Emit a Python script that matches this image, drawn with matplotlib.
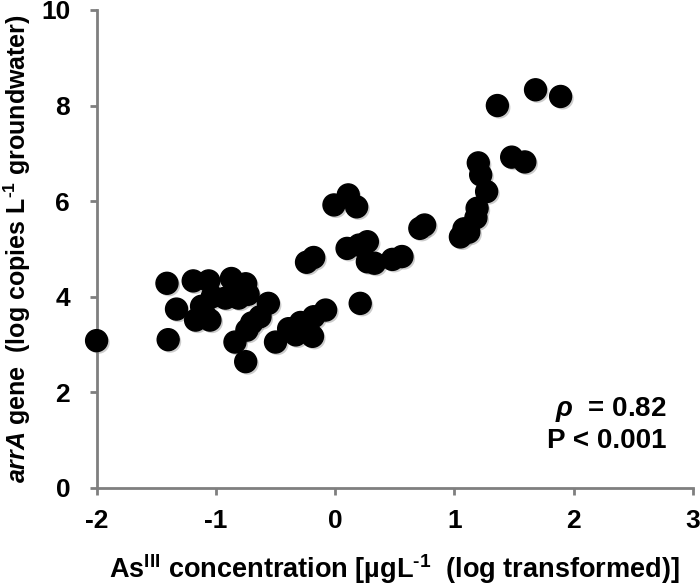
import matplotlib
matplotlib.use("Agg")
import matplotlib.pyplot as plt
import matplotlib.patheffects as pe

# As(III) concentration (log transformed) vs arrA gene copies (log)
as3 = [-2.00, -1.41, -1.40, -1.33, -1.19, -1.06, -0.87, -0.75, -1.12, -1.03,
       -0.92, -0.81, -0.73, -1.17, -1.05, -1.10, -0.56, -0.63, -0.70, -0.74,
       -0.84, -0.75, -0.50, -0.39, -0.29, -0.33, -0.19, -0.18, -0.08, 0.21,
       -0.24, -0.18, -0.01, 0.11, 0.18, 0.10, 0.20, 0.27, 0.27, 0.33,
       0.48, 0.56, 0.71, 0.75, 1.05, 1.08, 1.12, 1.18, 1.19, 1.27,
       1.22, 1.20, 1.36, 1.48, 1.59, 1.68, 1.89]
arra = [3.08, 4.28, 3.10, 3.74, 4.33, 4.33, 4.38, 4.27, 3.80, 4.00,
        3.97, 3.97, 4.05, 3.51, 3.51, 3.65, 3.86, 3.58, 3.45, 3.30,
        3.05, 2.64, 3.05, 3.33, 3.46, 3.20, 3.17, 3.58, 3.72, 3.86,
        4.72, 4.82, 5.92, 6.13, 5.88, 5.01, 5.08, 5.15, 4.73, 4.70,
        4.78, 4.84, 5.43, 5.50, 5.25, 5.42, 5.35, 5.65, 5.85, 6.20,
        6.55, 6.80, 8.00, 6.92, 6.82, 8.33, 8.19]
xticks = [-2, -1, 0, 1, 2, 3]
yticks = [0, 2, 4, 6, 8, 10]

plt.rcParams['font.family'] = ['Liberation Sans', 'DejaVu Sans']
plt.rcParams['font.weight'] = 'bold'
plt.rcParams['axes.unicode_minus'] = False
plt.rcParams['mathtext.fontset'] = 'custom'
plt.rcParams['mathtext.rm'] = 'Liberation Sans:bold'
plt.rcParams['mathtext.bf'] = 'Liberation Sans:bold'
plt.rcParams['mathtext.it'] = 'Liberation Sans:bold:italic'
plt.rcParams['mathtext.default'] = 'rm'

fig = plt.figure(figsize=(7, 5.87), dpi=100)
ax = fig.add_axes([0.138, 0.169, 0.852, 0.814])

sc = ax.scatter(as3, arra, s=250, color='black', zorder=3, clip_on=False)
sc.set_path_effects([pe.SimplePatchShadow(offset=(1.5, -1.5), shadow_rgbFace='gray', alpha=0.4),
                     pe.Normal()])

ax.set_xlim(-2, 3)
ax.set_ylim(0, 10)
ax.set_xticks(xticks)
ax.set_yticks(yticks)
ax.tick_params(axis='both', direction='out', length=5, width=2, color='#7f7f7f',
               labelsize=19)
ax.tick_params(axis='x', pad=10)
ax.tick_params(axis='y', pad=14)
for s in ['top', 'right']:
    ax.spines[s].set_visible(False)
for s in ['left', 'bottom']:
    ax.spines[s].set_color('#7f7f7f')
    ax.spines[s].set_linewidth(2)

ax.set_xlabel('As$^{\\mathrm{III}}$ concentration [µgL$^{\u20101}$  (log transformed)]',
              fontsize=19.5, fontweight='bold', labelpad=14)
ax.set_ylabel('$\\mathit{arrA}$ gene  (log copies L$^{\u20101}$ groundwater)',
              fontsize=18, fontweight='bold', labelpad=6)

ax.text(2.78, 1.63, r'$\mathit{\rho}$  = 0.82', ha='right', va='center', fontsize=20,
        fontweight='bold')
ax.text(2.78, 0.98, 'P < 0.001', ha='right', va='center', fontsize=20, fontweight='bold')

fig.savefig('out.png', dpi=100)
